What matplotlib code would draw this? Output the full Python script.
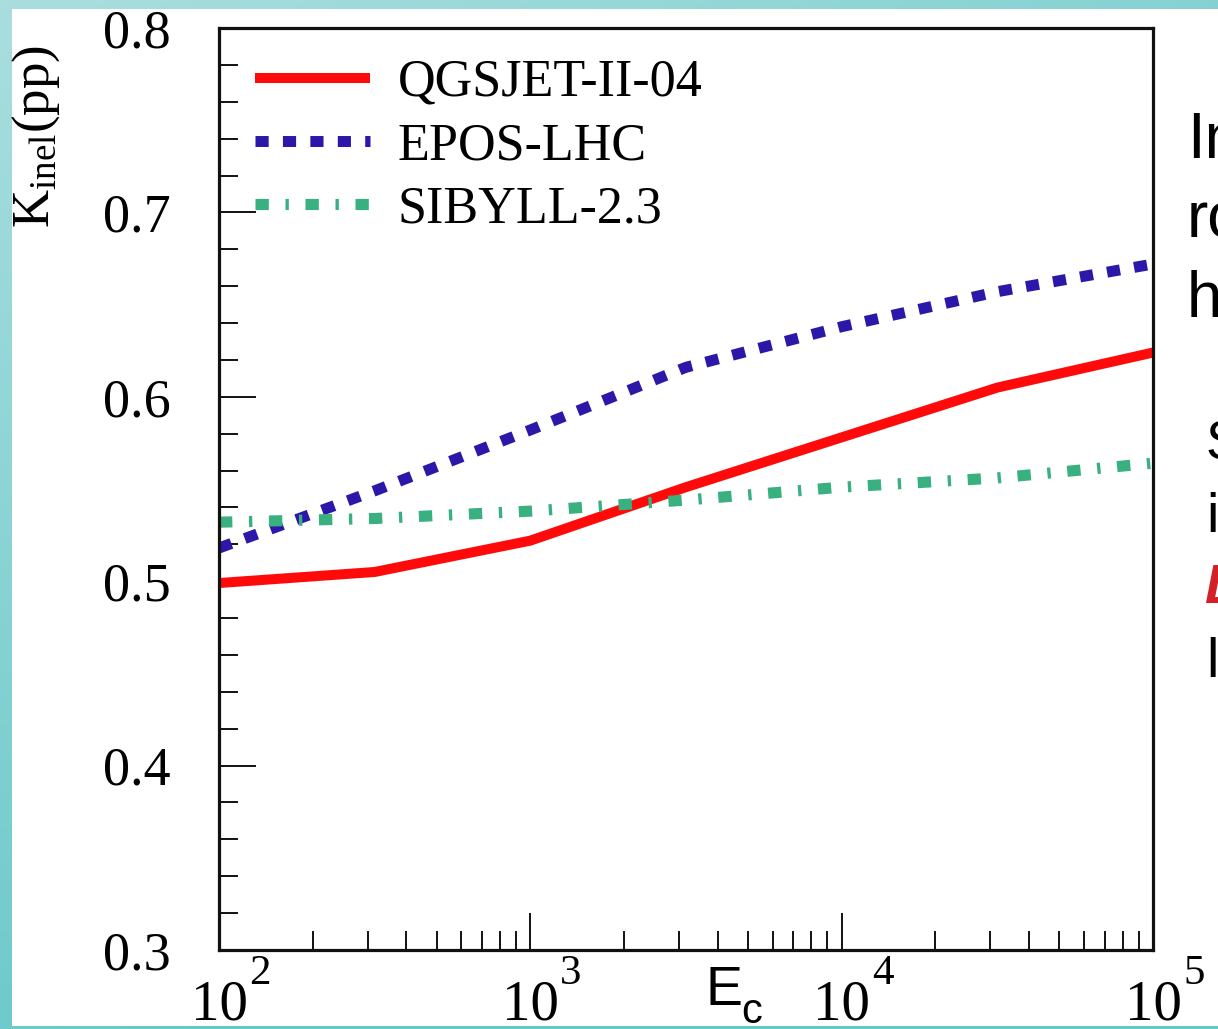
import numpy as np
import matplotlib
matplotlib.use("Agg")
import matplotlib.pyplot as plt
import matplotlib.transforms as mtransforms
from matplotlib.patches import Rectangle
from matplotlib.ticker import FixedLocator, NullFormatter

# ---- data -------------------------------------------------------------
energy = [100.0, 316.2, 1000.0, 3162.0, 10000.0, 31623.0, 100000.0]
k_qgsjet = [0.499, 0.505, 0.522, 0.551, 0.578, 0.605, 0.624]
k_epos = [0.518, 0.549, 0.582, 0.616, 0.638, 0.657, 0.672]
k_sibyll = [0.532, 0.534, 0.538, 0.544, 0.551, 0.556, 0.564]
series_names = ["QGSJET-II-04", "EPOS-LHC", "SIBYLL-2.3"]

y_ticks = [0.3, 0.4, 0.5, 0.6, 0.7, 0.8]
y_tick_labels = ["0.3", "0.4", "0.5", "0.6", "0.7", "0.8"]
x_ticks = [1e2, 1e3, 1e4, 1e5]
x_tick_mantissa = ["10", "10", "10", "10"]
x_tick_exponents = ["2", "3", "4", "5"]

# ---- style ------------------------------------------------------------
plt.rcParams["font.family"] = ["Liberation Serif", "DejaVu Serif"]
plt.rcParams["mathtext.fontset"] = "custom"
plt.rcParams["mathtext.rm"] = "Liberation Serif"
plt.rcParams["mathtext.it"] = "Liberation Serif:italic"
plt.rcParams["mathtext.sf"] = "Liberation Sans"

W, H = 1218, 1029
fig = plt.figure(figsize=(W / 100, H / 100), dpi=100)

# slide background: teal gradient frame with a white panel
bg = fig.add_axes([0, 0, 1, 1], zorder=-10)
yy, xx = np.mgrid[0:1:200j, 0:1:200j]
t = np.clip(0.55 * xx + 0.9 * yy, 0, 1)
light = np.array([170, 222, 222]) / 255
dark = np.array([104, 200, 201]) / 255
grad = light[None, None, :] * (1 - t[..., None]) + dark[None, None, :] * t[..., None]
bg.imshow(grad, extent=[0, 1, 0, 1], aspect="auto", origin="upper")
bg.add_patch(Rectangle((12 / W, 3 / H), 1 - 12 / W, (1026 - 9) / H,
                       facecolor="white", edgecolor="none"))
bg.set_xlim(0, 1)
bg.set_ylim(0, 1)
bg.axis("off")

# ---- main axes --------------------------------------------------------
left, right, top, bottom = 219, 1153, 28, 950
ax = fig.add_axes([left / W, (H - bottom) / H, (right - left) / W, (bottom - top) / H])
ax.set_facecolor("white")

ax.plot(energy, k_qgsjet, color="#ff0a0a", lw=7.2, solid_capstyle="butt",
        solid_joinstyle="round", label=series_names[0])
ax.plot(energy, k_epos, color="#2c18a8", lw=7.9, linestyle=(0, (1.2, 1.3)),
        dash_capstyle="butt", label=series_names[1])
ax.plot(energy, k_sibyll, color="#38b07f", lw=8.0, linestyle=(0, (1.2, 1.5, 0.3, 1.5)),
        dash_capstyle="butt", label=series_names[2])

ax.set_xscale("log")
ax.set_xlim(1e2, 1e5)
ax.set_ylim(0.3, 0.8)

for s in ax.spines.values():
    s.set_linewidth(2.3)
    s.set_color("#111111")

ax.yaxis.set_major_locator(FixedLocator(y_ticks))
ax.yaxis.set_minor_locator(FixedLocator(np.arange(0.30, 0.801, 0.02)))
ax.set_yticklabels(y_tick_labels)
ax.xaxis.set_major_locator(FixedLocator(x_ticks))
minor_x = [m * 10.0 ** d for d in (2, 3, 4) for m in range(2, 10)]
ax.xaxis.set_minor_locator(FixedLocator(minor_x))
ax.xaxis.set_minor_formatter(NullFormatter())
ax.set_xticklabels(x_tick_mantissa)

ax.tick_params(which="both", direction="in", top=False, right=False,
               color="#111111", width=1.4)
ax.tick_params(which="major", length=26.5)
ax.tick_params(which="minor", length=13.5)
ax.tick_params(axis="y", which="major", pad=35, labelsize=39)
ax.tick_params(axis="x", which="major", pad=21.5, labelsize=41)

# exponents of the x tick labels
xtrans = mtransforms.blended_transform_factory(ax.transData, ax.transAxes)
for xv, ex in zip(x_ticks, x_tick_exponents):
    off = mtransforms.ScaledTranslation(30 / 100, -5 / 100, fig.dpi_scale_trans)
    ax.text(xv, 0, ex, transform=xtrans + off, ha="left", va="top",
            fontsize=31, clip_on=False)

# axis titles
fig.text(36 / W, (H - 45) / H, r"$\mathregular{K_{inel}(pp)}$", rotation=90,
         ha="center", va="top", fontsize=38)
fig.text(706 / W, (H - 1005) / H, "E", family="Liberation Sans", fontsize=40,
         ha="left", va="baseline")
fig.text(741 / W, (H - 1023) / H, "c", family="Liberation Sans", fontsize=30,
         ha="left", va="baseline")

# legend
leg = ax.legend(loc="upper left", bbox_to_anchor=(255 / W, (H - 59) / H),
                bbox_transform=fig.transFigure, frameon=False, fontsize=37.5,
                handlelength=2.2, handletextpad=0.54, labelspacing=0.29,
                borderpad=0, borderaxespad=0)

# side notes of the slide
sans = "Liberation Sans"
for txt, yb in (("In", 158), ("ro", 237), ("h", 317)):
    fig.text(1187 / W, (H - yb) / H, txt, family=sans, fontsize=46, va="baseline")
for txt, yb in (("S", 460), ("i", 532), ("l", 677)):
    fig.text(1206 / W, (H - yb) / H, txt, family=sans, fontsize=40, va="baseline")
fig.text(1204 / W, (H - 603) / H, "L", family=sans, fontsize=40, va="baseline",
         color="#d42027", fontweight="bold", fontstyle="italic")

fig.savefig("out.png", dpi=100)
